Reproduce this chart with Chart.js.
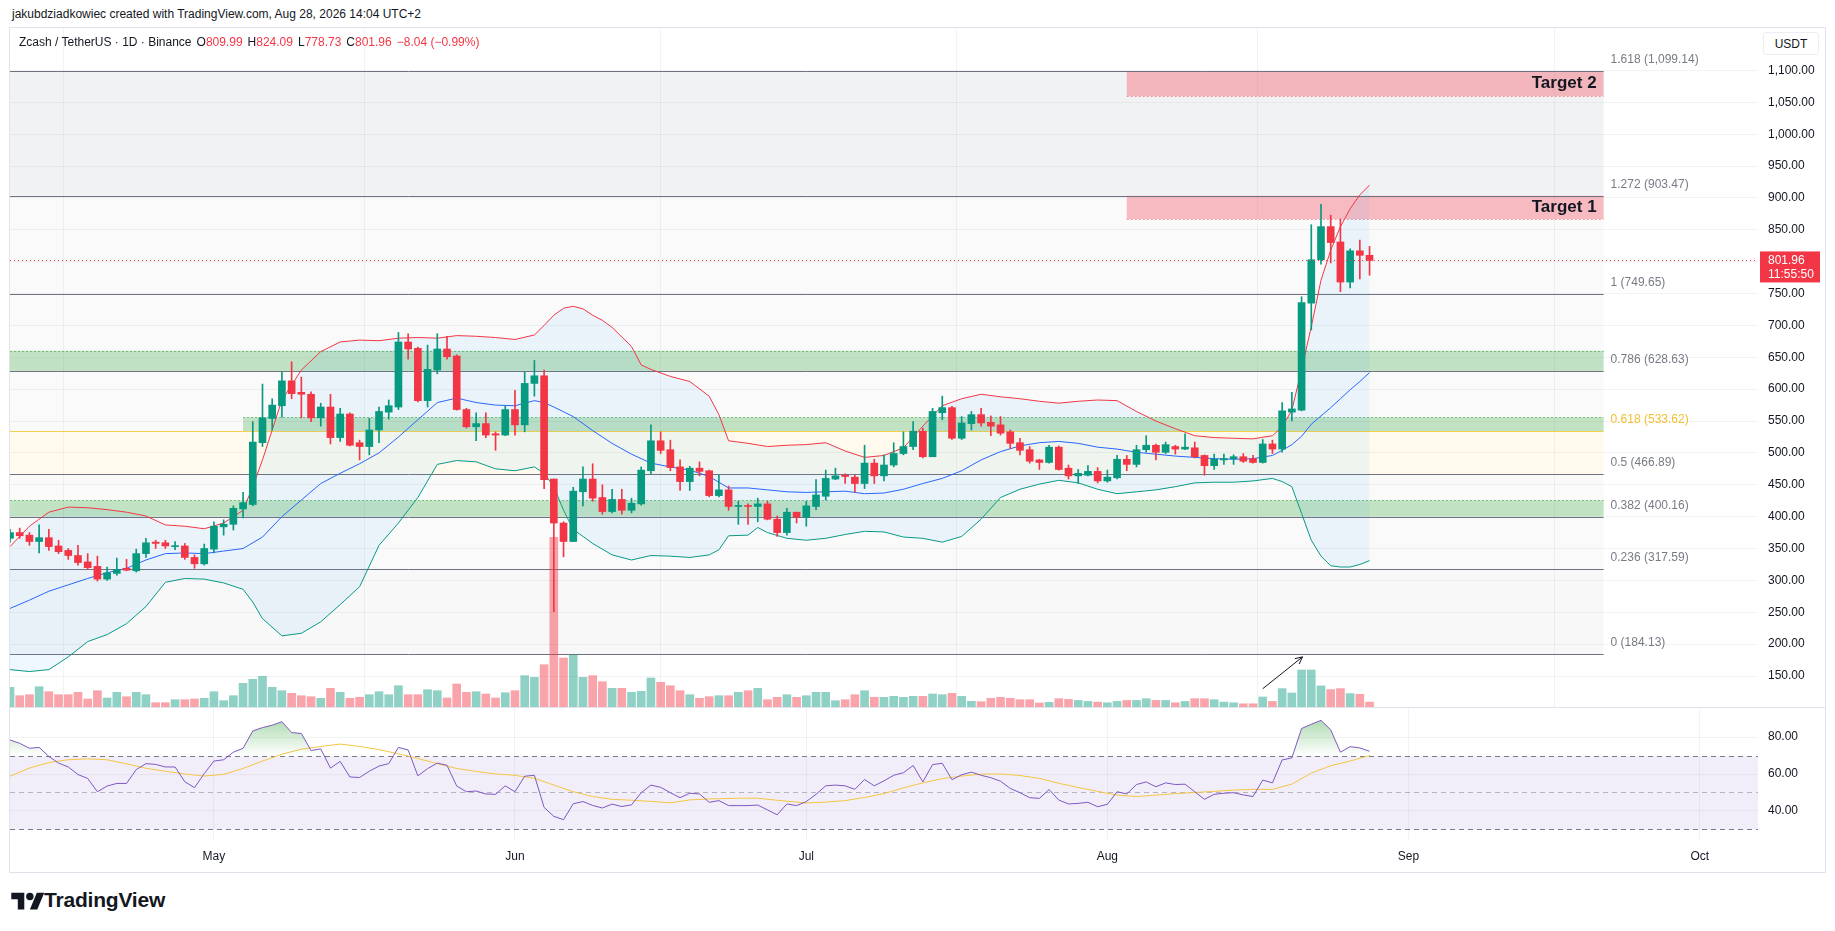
<!DOCTYPE html>
<html>
<head>
<meta charset="utf-8">
<title>Zcash / TetherUS · 1D · Binance</title>
<script src="https://cdn.jsdelivr.net/npm/chart.js@4.4.1/dist/chart.umd.min.js"></script>
<style>
  body { margin: 0; background: #ffffff; font-family: "Liberation Sans", Arial, sans-serif; color: #131722; }
  #page { position: relative; width: 1835px; height: 931px; overflow: hidden; }
  #byline { position: absolute; left: 12px; top: 7px; font-size: 12px; white-space: nowrap; }
  #frame { position: absolute; left: 9px; top: 27px; width: 1817px; height: 846px; border: 1px solid #e0e3eb; box-sizing: border-box; }
  #sep { position: absolute; left: 10px; top: 707px; width: 1815px; height: 1px; background: #e0e3eb; }
  #ticker { position: absolute; left: 19px; top: 35px; font-size: 12px; white-space: nowrap; }
  #ticker .v { color: #f23645; margin-right: 5px; }
  #ticker .name { margin-right: 5px; }
  #unit { position: absolute; left: 1763px; top: 32px; width: 56px; height: 23px; border: 1px solid #eceef2; border-radius: 3px; background: #fff;
          font-size: 12px; line-height: 23px; text-align: center; box-sizing: border-box; }
  canvas { position: absolute; }
  #logo { position: absolute; left: 11px; top: 889px; }
  #brand { position: absolute; left: 44px; top: 888px; font-size: 21px; font-weight: bold; letter-spacing: -0.2px; }
</style>
</head>
<body>
<div id="page">
  <div id="byline">jakubdziadkowiec created with TradingView.com, Aug 28, 2026 14:04 UTC+2</div>
  <div id="frame"></div>
  <canvas id="mainCanvas" width="1815" height="680" style="left:10px; top:28px;"></canvas>
  <canvas id="rsiCanvas" width="1815" height="164" style="left:10px; top:708px;"></canvas>
  <div id="sep"></div>
  <div id="ticker"><span class="name">Zcash / TetherUS · 1D · Binance</span>O<span class="v">809.99</span>H<span class="v">824.09</span>L<span class="v">778.73</span>C<span class="v">801.96</span><span class="v">−8.04 (−0.99%)</span></div>
  <div id="unit">USDT</div>
  <svg id="logo" width="34" height="26" viewBox="0 0 36 28"><path d="M14 22H7V11H0V4h14v18zM28 22h-8l7.5-18h8L28 22z" fill="#131722"/><circle cx="20" cy="8" r="4" fill="#131722"/></svg>
  <div id="brand">TradingView</div>
</div>
<script>
// first candle is Apr 10 2026, the axis runs on to early October
var startDate = new Date(2026, 3, 10);
var axisDays = 180;

var opens = [366,375,371,361,367,354,347,339,329,322, 302,311,319,315,342,360,359,353,354,336,
  326,349,384,388,412,419,516,554,574,613, 595,592,555,572,524,561,516,510,536,564,
  572,674,664,582,630,663,652,568,541,546, 530,528,568,544,609,621,459,390,361,439,
  459,430,408,427,410,420,472,519,505,478, 455,476,472,433,442,416,417,416,420,396,
  375,407,399,416,432,459,465,462,452,484, 464,481,499,510,534,494,563,571,523,546,
  560,548,544,533,516,505,489,485,509,476, 464,465,471,456,461,490,482,505,512,501,
  510,506,508,496,480,489,491,494,491,485, 514,506,564,567,735,803,855,831,768,817,809.99];
var highs = [380,382,375,387,380,363,350,355,342,338, 321,335,333,349,366,363,363,361,358,340,
  357,392,395,417,438,549,608,585,627,643, 619,596,578,592,570,563,520,554,572,583,
  689,687,666,669,687,683,654,570,563,563, 533,574,598,627,645,630,459,392,446,478,
  483,450,443,443,429,478,544,533,520,489, 479,486,473,465,448,424,420,429,424,401,
  413,407,424,458,473,476,467,465,512,490, 497,516,533,549,539,570,589,573,557,565,
  570,558,557,536,523,510,490,512,511,481, 474,480,477,473,496,496,512,527,514,517,
  512,530,517,497,498,498,497,499,496,521, 520,579,595,745,858,890,873,867,820,834,824.09];
var lows = [360,366,355,343,347,342,333,324,317,299, 300,308,315,313,336,350,350,348,333,319,
  324,343,371,379,398,417,510,536,556,585, 555,549,542,514,518,511,489,497,516,553,
  568,647,580,572,624,647,567,539,519,524, 504,527,528,533,589,444,251,337,361,417,
  424,404,406,404,406,418,467,499,472,441, 441,464,431,431,410,388,388,392,395,369,
  371,390,385,411,426,458,452,438,444,452, 456,478,497,505,492,494,552,521,521,536,
  542,527,528,507,497,484,474,484,473,459, 452,464,453,454,459,472,478,501,489,499,
  498,505,492,465,474,482,482,485,484,484, 499,501,550,566,693,796,798,753,759,773,778.73];
var closes = [375,370,361,367,353,345,339,328,320,302, 312,317,316,342,359,358,354,354,336,326,
  350,385,388,413,422,517,555,575,613,593, 592,555,572,524,561,512,510,536,565,574,
  674,663,582,631,663,651,568,541,546,528, 528,568,544,609,621,458,390,361,440,459,
  429,408,427,410,421,473,519,504,477,455, 476,471,433,442,416,417,416,420,396,375,
  407,399,417,434,460,464,463,452,484,464, 481,499,510,534,494,565,571,523,547,560,
  547,542,531,515,504,487,485,509,474,464, 468,471,456,462,490,482,505,512,501,513,
  506,509,494,480,490,491,494,487,485,514, 506,566,569,736,803,855,830,768,817,810,801.96];
var volumes = [20.7,12.3,13.3,21.3,16.3,13.3,13.3,15.7,9,17.3, 10,15.7,11.3,15.7,13.3,5.3,5.3,8.3,8.3,9,
  9.7,16.3,7.3,12.3,24.7,28.7,31.7,20.7,17.3,14.7, 12.3,11.3,9.7,19.7,15.7,9.7,10.7,13.3,16.3,13.3,
  22.3,13.3,13.3,18.3,17.3,10,24,15.7,16.3,14, 10,15.3,17.3,32.3,30.7,43.3,170.7,50,53,30.7,
  32.3,26.3,19.7,19.7,15.7,16.7,30,25.7,22.3,17.3, 13.3,9.7,11.3,12.3,12.3,15.7,17.3,19.7,8.3,10.7,
  13.3,10.7,12.3,15.7,15.7,7.3,8.3,13.3,17.3,10.7, 10.7,11.7,10.7,11.7,11.7,14,13.3,14.7,11.7,6.7,
  6.3,9.7,10.7,9.7,8.3,8.3,5,5.7,9.3,8.6, 7.6,6.6,5.9,5.2,6.6,7.6,7.6,9.3,7.6,7.6,
  5.2,6.6,9.3,9.3,8.3,5.9,5.2,4.2,4.2,11, 6.6,19.4,15,38,38,22.1,18.4,19.4,14.4,13.7,5.9];

// Bollinger bands, [day, price]
var bbUpper = [[0,353],[2,385],[4,407],[6,415],[8,414],[10,411],[12,407],[14,401],[16,387],[18,385],[20,381],[22,390],
  [24,410],[25,447],[26,489],[27,536],[28,583],[30,630],[32,659],[34,674],[36,677],[38,676],[40,680],[42,681],[44,680],
  [46,684],[48,683],[50,681],[52,678],[54,685],[55,700],[56,716],[57,727],[58,730],[59,726],[60,716],[61,708],[62,697],
  [64,667],[65,638],[66,631],[68,620],[70,612],[72,589],[73,560],[74,519],[76,515],[78,510],[80,512],[82,513],[84,516],
  [86,503],[88,493],[90,496],[92,508],[94,542],[96,574],[98,585],[100,592],[102,588],[104,585],[106,581],[108,578],
  [110,581],[112,583],[114,582],[116,565],[118,550],[120,538],[122,527],[124,524],[126,523],[128,522],[130,527],
  [131,541],[132,567],[133,631],[134,698],[135,771],[136,818],[137,855],[138,883],[139,905],[140,920]];
var bbMiddle = [[0,256],[2,269],[4,283],[6,293],[8,303],[10,312],[12,319],[14,332],[16,342],[18,343],[20,342],[22,346],
  [24,350],[26,368],[28,400],[30,426],[32,452],[34,468],[36,483],[38,500],[40,525],[42,552],[44,579],[46,586],[48,579],
  [50,575],[52,574],[54,582],[55,579],[56,572],[58,557],[60,535],[62,515],[64,498],[66,484],[68,478],[70,473],[72,463],
  [74,445],[76,445],[78,442],[80,439],[82,438],[84,439],[86,440],[88,436],[90,437],[92,443],[94,452],[96,460],[98,472],
  [100,489],[102,502],[104,511],[106,516],[108,518],[110,515],[112,509],[114,506],[116,501],[118,498],[120,495],
  [122,493],[124,491],[126,490],[128,491],[130,496],[131,504],[132,513],[133,526],[134,545],[135,558],[136,571],
  [137,585],[138,599],[139,612],[140,626]];
var bbLower = [[0,160],[2,157],[4,160],[6,180],[8,204],[10,215],[12,232],[14,259],[16,297],[18,303],[20,302],[22,296],
  [24,286],[25,266],[26,240],[28,213],[30,217],[32,235],[34,262],[36,290],[38,355],[40,390],[42,430],[44,482],[46,488],
  [48,486],[50,475],[52,472],[54,478],[55,468],[56,447],[57,410],[58,380],[60,358],[62,340],[64,332],[66,339],[68,338],
  [70,336],[72,340],[73,348],[74,370],[76,371],[77,383],[78,375],[80,366],[82,363],[84,366],[86,372],[88,377],[90,376],
  [92,368],[94,366],[96,360],[98,369],[100,396],[102,430],[104,443],[106,451],[108,457],[110,453],[112,443],[114,436],
  [116,439],[118,442],[120,447],[122,453],[124,454],[126,454],[128,456],[130,460],[131,455],[132,447],[133,405],
  [134,363],[135,338],[136,323],[137,321],[138,321],[139,325],[140,331]];

var rsiValues = [78.4,76.6,73.9,74.4,69.5,65.9,63.8,59.7,57.6,50.4, 53.5,54.9,54.9,62.4,65.6,65.2,63.8,63.8,55.8,52.6,
  60.2,67,67.7,71.8,73.9,83.3,85.1,86.4,88.3,82.4, 81.9,72.7,73.6,63.2,66.8,58.4,58.1,61.5,64.3,65.6,
  74.4,73,59,62.9,65.9,64.7,53.5,50.4,50.8,49.2, 49,53.6,50.4,58.8,59.3,41.9,37.1,35.3,43.9,45.1,
  43,41.6,43.7,42.4,43.3,49.9,54,52.8,49.9,47.2, 49.6,49.2,44.7,45.6,42.9,42.9,42.9,43.2,40.6,37.9,
  43.8,42.9,45.1,49,53.6,54,53.6,51.7,57,53.6, 56.3,59.3,60.7,64.6,55.7,65.1,65.8,56.9,59.6,61,
  59.3,58,56.1,52.2,49.9,47.2,46.8,51.6,45.9,43.8, 44.1,44.7,42.3,43.6,50.4,49.2,54.3,55.7,53.1,55.2,
  54.3,54.5,50.4,46.3,49,49.6,49.9,48.7,47.8,56.7, 55.2,67.6,68.7,84.6,86.9,89,83.9,71.8,74.8,74.1,72.3];
var rsiMa = [[0,58.8],[2,63.2],[4,66.2],[6,67.7],[8,68.2],[10,67.7],[12,65.5],[14,63.1],[16,61.5],[18,60],[20,58.9],
  [22,59.8],[24,63],[26,67],[28,70.7],[30,73.4],[32,74.9],[34,76.2],[36,74.9],[38,73.2],[40,70.9],[42,68.4],[44,65.6],
  [46,63],[48,61.4],[50,60],[52,59.3],[54,57.7],[56,54],[58,50.4],[60,47.8],[62,46.3],[64,45.8],[66,45.2],[68,44.4],
  [70,46],[72,46.5],[75,46.9],[77,46.9],[79,45.8],[82,44.3],[84,44.8],[86,45.6],[88,47.3],[90,49.4],[92,52.5],
  [94,55.2],[96,57.5],[98,58.9],[100,59.9],[102,60],[104,59.2],[106,57.6],[108,55],[110,52.7],[112,50.6],[114,48.6],
  [116,47.8],[118,48.6],[120,49.4],[122,50],[124,50.6],[126,51.3],[128,51.7],[130,51.7],[132,54.5],[134,60.5],
  [136,64.5],[138,67],[140,70]];

var priceTicks = [150,200,250,300,350,400,450,500,550,600,650,700,750,800,850,900,950,1000,1050,1100];
var rsiTicks = [40, 60, 80];

var fibRatios = [1.618, 1.272, 1, 0.786, 0.618, 0.5, 0.382, 0.236, 0];
var fibPrices = [1099.14, 903.47, 749.65, 628.63, 533.62, 466.89, 400.16, 317.59, 184.13];
var fibEndDay = 164.1;

var zoneLow = [628.63, 533.62, 400.16];
var zoneHigh = [660.3, 555.8, 425.6];
var zoneStartDay = [0, 24, 0];

var targetNames = ['Target 2', 'Target 1'];
var targetLow = [1060, 867];
var targetHigh = [1099.14, 903.47];
var targetStartDay = 115;

var lastPrice = 801.96;
var countdown = '11:55:50';
var arrowFrom = [129, 130];
var arrowTo = [133.1, 180];

Chart.defaults.font.family = '"Liberation Sans", Arial, sans-serif';
Chart.defaults.color = '#131722';

var upColor = '#089981';
var downColor = '#f23645';

var monthDays = [];
var monthNames = {};
for (var d = 0; d <= axisDays; d++) {
  var dt = new Date(startDate.getFullYear(), startDate.getMonth(), startDate.getDate() + d);
  if (dt.getDate() === 1) {
    monthDays.push(d);
    monthNames[d] = dt.toLocaleString('en-US', { month: 'short' });
  }
}

function pairs(list) {
  return list.map(function (p) { return { x: p[0], y: p[1] }; });
}
function candleColor(i) {
  return closes[i] >= opens[i] ? upColor : downColor;
}
function monthTicks(scale) {
  scale.ticks = monthDays.map(function (d) { return { value: d }; });
}
function fmt(v) {
  return v.toLocaleString('en-US', { minimumFractionDigits: 2, maximumFractionDigits: 2 });
}

var candleColors = opens.map(function (o, i) { return candleColor(i); });
var volumeColors = opens.map(function (o, i) {
  return closes[i] >= opens[i] ? 'rgba(8,153,129,0.45)' : 'rgba(242,54,69,0.45)';
});

var gridColor = 'rgba(42,46,57,0.06)';

// price labels on the right, drawn from the axis' own ticks
var axisLabels = {
  id: 'axisLabels',
  afterDraw: function (chart) {
    var ctx = chart.ctx, y = chart.scales.y;
    ctx.save();
    ctx.font = '12px "Liberation Sans", Arial, sans-serif';
    ctx.fillStyle = '#131722';
    ctx.textAlign = 'left';
    ctx.textBaseline = 'middle';
    y.ticks.forEach(function (t) {
      ctx.fillText(fmt(t.value), y.left + 10, y.getPixelForValue(t.value));
    });
    ctx.restore();
  }
};

var fibPlugin = {
  id: 'fib',
  beforeDatasetsDraw: function (chart) {
    var ctx = chart.ctx, x = chart.scales.x, y = chart.scales.y, a = chart.chartArea;
    var right = x.getPixelForValue(fibEndDay);
    var bandColors = ['rgba(120,123,134,0.10)', 'rgba(120,123,134,0.035)', 'rgba(120,123,134,0.035)',
      'rgba(120,123,134,0.04)', 'rgba(255,214,110,0.12)', 'rgba(120,123,134,0.04)',
      'rgba(120,123,134,0.04)', 'rgba(120,123,134,0.05)'];
    ctx.save();
    ctx.beginPath();
    ctx.rect(a.left, a.top, a.right - a.left, a.bottom - a.top);
    ctx.clip();

    for (var i = 0; i < fibPrices.length - 1; i++) {
      var y1 = y.getPixelForValue(fibPrices[i]);
      var y2 = y.getPixelForValue(fibPrices[i + 1]);
      ctx.fillStyle = bandColors[i];
      ctx.fillRect(a.left, y1, right - a.left, y2 - y1);
    }

    // green support zones
    for (var z = 0; z < zoneLow.length; z++) {
      var zx = zoneStartDay[z] === 0 ? a.left : x.getPixelForValue(zoneStartDay[z]);
      var zt = y.getPixelForValue(zoneHigh[z]);
      var zb = y.getPixelForValue(zoneLow[z]);
      ctx.fillStyle = 'rgba(76,175,80,0.32)';
      ctx.fillRect(zx, zt, right - zx, zb - zt);
      ctx.strokeStyle = 'rgba(76,175,80,0.7)';
      ctx.lineWidth = 1;
      ctx.setLineDash([2, 2]);
      ctx.beginPath();
      ctx.moveTo(zx, Math.round(zt) + 0.5);
      ctx.lineTo(right, Math.round(zt) + 0.5);
      ctx.stroke();
      ctx.setLineDash([]);
    }

    // red target zones
    var tx = x.getPixelForValue(targetStartDay);
    for (var t = 0; t < targetNames.length; t++) {
      var tt = y.getPixelForValue(targetHigh[t]);
      var tb = y.getPixelForValue(targetLow[t]);
      ctx.fillStyle = 'rgba(242,54,69,0.32)';
      ctx.fillRect(tx, tt, right - tx, tb - tt);
      ctx.strokeStyle = 'rgba(242,54,69,0.5)';
      ctx.setLineDash([2, 2]);
      ctx.beginPath();
      ctx.moveTo(tx, Math.round(tb) + 0.5);
      ctx.lineTo(right, Math.round(tb) + 0.5);
      ctx.stroke();
      ctx.setLineDash([]);
      ctx.fillStyle = '#131722';
      ctx.font = 'bold 17px "Liberation Sans", Arial, sans-serif';
      ctx.textAlign = 'right';
      ctx.textBaseline = 'middle';
      ctx.fillText(targetNames[t], right - 7, (tt + tb) / 2);
    }

    // level lines and labels
    ctx.font = '12px "Liberation Sans", Arial, sans-serif';
    ctx.textAlign = 'left';
    ctx.textBaseline = 'middle';
    for (var f = 0; f < fibPrices.length; f++) {
      var fy = Math.round(y.getPixelForValue(fibPrices[f])) + 0.5;
      var golden = fibRatios[f] === 0.618;
      ctx.strokeStyle = golden ? '#f5d04c' : '#70737e';
      ctx.lineWidth = 1;
      ctx.beginPath();
      ctx.moveTo(a.left, fy);
      ctx.lineTo(right, fy);
      ctx.stroke();
      ctx.fillStyle = golden ? '#f2bf2f' : '#787b86';
      ctx.fillText(String(fibRatios[f]) + ' (' + fmt(fibPrices[f]) + ')', right + 7, fy - 12);
    }
    ctx.restore();
  },
  afterDatasetsDraw: function (chart) {
    var ctx = chart.ctx, x = chart.scales.x, y = chart.scales.y, a = chart.chartArea;
    ctx.save();
    // last price line
    var py = Math.round(y.getPixelForValue(lastPrice)) + 0.5;
    ctx.strokeStyle = '#f23645';
    ctx.lineWidth = 1;
    ctx.setLineDash([1, 3]);
    ctx.beginPath();
    ctx.moveTo(a.left, py);
    ctx.lineTo(a.right, py);
    ctx.stroke();
    ctx.setLineDash([]);

    // volume arrow
    var x1 = x.getPixelForValue(arrowFrom[0]), y1 = y.getPixelForValue(arrowFrom[1]);
    var x2 = x.getPixelForValue(arrowTo[0]), y2 = y.getPixelForValue(arrowTo[1]);
    var ang = Math.atan2(y2 - y1, x2 - x1);
    ctx.strokeStyle = '#131722';
    ctx.lineWidth = 1;
    ctx.beginPath();
    ctx.moveTo(x1, y1);
    ctx.lineTo(x2, y2);
    ctx.moveTo(x2, y2);
    ctx.lineTo(x2 - 8 * Math.cos(ang - 0.45), y2 - 8 * Math.sin(ang - 0.45));
    ctx.moveTo(x2, y2);
    ctx.lineTo(x2 - 8 * Math.cos(ang + 0.45), y2 - 8 * Math.sin(ang + 0.45));
    ctx.stroke();
    ctx.restore();
  },
  afterDraw: function (chart) {
    var ctx = chart.ctx, y = chart.scales.y;
    var py = y.getPixelForValue(lastPrice);
    ctx.save();
    ctx.fillStyle = '#f23645';
    ctx.fillRect(y.left + 2, py - 9, 60, 31);
    ctx.fillStyle = '#ffffff';
    ctx.font = '12px "Liberation Sans", Arial, sans-serif';
    ctx.textAlign = 'left';
    ctx.textBaseline = 'middle';
    ctx.fillText(fmt(lastPrice), y.left + 10, py);
    ctx.fillText(countdown, y.left + 10, py + 14);
    ctx.restore();
  }
};

var mainChart = new Chart(document.getElementById('mainCanvas'), {
  type: 'bar',
  data: {
    datasets: [
      {
        label: 'Volume',
        yAxisID: 'yVol',
        data: volumes.map(function (v, i) { return { x: i, y: v }; }),
        backgroundColor: volumeColors,
        barThickness: 8,
        order: 6
      },
      {
        type: 'line', label: 'BB upper', data: pairs(bbUpper),
        borderColor: '#f23645', borderWidth: 1, pointRadius: 0,
        fill: '+2', backgroundColor: 'rgba(33,150,243,0.07)', order: 5
      },
      {
        type: 'line', label: 'BB basis', data: pairs(bbMiddle),
        borderColor: '#2962ff', borderWidth: 1, pointRadius: 0, fill: false, order: 5
      },
      {
        type: 'line', label: 'BB lower', data: pairs(bbLower),
        borderColor: '#089981', borderWidth: 1, pointRadius: 0, fill: false, order: 5
      },
      {
        label: 'Wick',
        data: lows.map(function (l, i) { return { x: i, y: [l, highs[i]] }; }),
        backgroundColor: candleColors,
        barThickness: 1,
        order: 2
      },
      {
        label: 'Body',
        data: opens.map(function (o, i) { return { x: i, y: [o, closes[i]] }; }),
        backgroundColor: candleColors,
        barThickness: 7,
        minBarLength: 1,
        order: 1
      }
    ]
  },
  options: {
    responsive: false,
    animation: false,
    layout: { padding: 0 },
    datasets: { bar: { grouped: false } },
    plugins: { legend: { display: false }, tooltip: { enabled: false } },
    scales: {
      x: {
        type: 'linear', min: 0, max: axisDays, offset: false,
        afterBuildTicks: monthTicks,
        ticks: { display: false },
        grid: { color: gridColor, drawTicks: false },
        border: { display: false }
      },
      y: {
        position: 'right', min: 99.8, max: 1166.6,
        afterBuildTicks: function (s) { s.ticks = priceTicks.map(function (v) { return { value: v }; }); },
        afterFit: function (s) { s.width = 67; },
        ticks: { display: false },
        grid: { color: gridColor, drawTicks: false },
        border: { display: false }
      },
      yVol: { display: false, min: 0, max: 680 }
    }
  },
  plugins: [axisLabels, fibPlugin]
});

var rsiPlugin = {
  id: 'rsiBands',
  beforeDatasetsDraw: function (chart) {
    var ctx = chart.ctx, y = chart.scales.y, a = chart.chartArea;
    var y70 = Math.round(y.getPixelForValue(70)) + 0.5;
    var y50 = Math.round(y.getPixelForValue(50)) + 0.5;
    var y30 = Math.round(y.getPixelForValue(30)) + 0.5;
    ctx.save();
    ctx.fillStyle = 'rgba(126,87,194,0.1)';
    ctx.fillRect(a.left, y70, a.right - a.left, y30 - y70);
    ctx.lineWidth = 1;
    ctx.setLineDash([5, 4]);
    ctx.strokeStyle = '#787b86';
    ctx.beginPath();
    ctx.moveTo(a.left, y70); ctx.lineTo(a.right, y70);
    ctx.moveTo(a.left, y30); ctx.lineTo(a.right, y30);
    ctx.stroke();
    ctx.strokeStyle = 'rgba(120,123,134,0.5)';
    ctx.beginPath();
    ctx.moveTo(a.left, y50); ctx.lineTo(a.right, y50);
    ctx.stroke();
    ctx.restore();
  }
};

var rsiChart = new Chart(document.getElementById('rsiCanvas'), {
  type: 'line',
  data: {
    datasets: [
      {
        label: 'RSI',
        data: rsiValues.map(function (v, i) { return { x: i, y: v }; }),
        borderColor: '#7e57c2', borderWidth: 1, pointRadius: 0,
        fill: { target: { value: 70 }, below: 'rgba(0,0,0,0)' },
        backgroundColor: function (c) {
          var ch = c.chart, a = ch.chartArea;
          if (!a) return 'rgba(76,175,80,0.3)';
          var g = ch.ctx.createLinearGradient(0, a.top, 0, ch.scales.y.getPixelForValue(70));
          g.addColorStop(0, 'rgba(76,175,80,0.6)');
          g.addColorStop(1, 'rgba(76,175,80,0)');
          return g;
        }
      },
      {
        label: 'RSI-based MA',
        data: pairs(rsiMa),
        borderColor: '#f5c542', borderWidth: 1, pointRadius: 0, fill: false
      }
    ]
  },
  options: {
    responsive: false,
    animation: false,
    layout: { padding: 0 },
    plugins: { legend: { display: false }, tooltip: { enabled: false } },
    scales: {
      x: {
        type: 'linear', min: 0, max: axisDays, offset: false,
        afterBuildTicks: monthTicks,
        afterFit: function (s) { s.height = 32; },
        ticks: {
          autoSkip: false, maxRotation: 0, padding: 9, color: '#131722', font: { size: 12 },
          callback: function (v) { return monthNames[v] || ''; }
        },
        grid: { color: gridColor, drawTicks: false },
        border: { display: false }
      },
      y: {
        position: 'right', min: 24.3, max: 95.7,
        afterBuildTicks: function (s) { s.ticks = rsiTicks.map(function (v) { return { value: v }; }); },
        afterFit: function (s) { s.width = 67; },
        ticks: { display: false },
        grid: { color: gridColor, drawTicks: false },
        border: { display: false }
      }
    }
  },
  plugins: [rsiPlugin, axisLabels]
});
</script>
</body>
</html>
